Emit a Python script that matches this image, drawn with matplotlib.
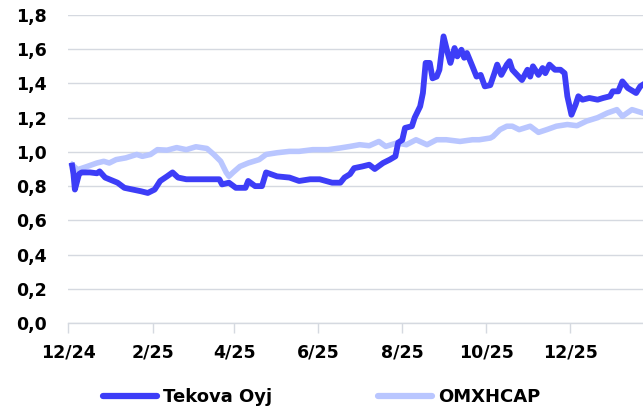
import matplotlib
matplotlib.use("Agg")
import matplotlib.pyplot as plt
import pandas as pd

tekova_dates = [
    "2024-12-04", "2024-12-05", "2024-12-06", "2024-12-09", "2024-12-11", "2024-12-17",
    "2024-12-22", "2024-12-24", "2024-12-28", "2024-12-31", "2025-01-06", "2025-01-11",
    "2025-01-17", "2025-01-23", "2025-01-28", "2025-02-02", "2025-02-06", "2025-02-11",
    "2025-02-15", "2025-02-19", "2025-02-25", "2025-03-07", "2025-03-14", "2025-03-21",
    "2025-03-23", "2025-03-28", "2025-04-02", "2025-04-09", "2025-04-11", "2025-04-16",
    "2025-04-21", "2025-04-24", "2025-05-02", "2025-05-11", "2025-05-18", "2025-05-26",
    "2025-06-02", "2025-06-11", "2025-06-17", "2025-06-20", "2025-06-24", "2025-06-27",
    "2025-07-03", "2025-07-08", "2025-07-12", "2025-07-18", "2025-07-23", "2025-07-27",
    "2025-07-29", "2025-08-01", "2025-08-03", "2025-08-08", "2025-08-10", "2025-08-14",
    "2025-08-16", "2025-08-18", "2025-08-21", "2025-08-23", "2025-08-26", "2025-08-28",
    "2025-08-31", "2025-09-03", "2025-09-05", "2025-09-08", "2025-09-10", "2025-09-13",
    "2025-09-15", "2025-09-17", "2025-09-21", "2025-09-24", "2025-09-27", "2025-09-30",
    "2025-10-04", "2025-10-07", "2025-10-09", "2025-10-12", "2025-10-16", "2025-10-18",
    "2025-10-20", "2025-10-27", "2025-10-31", "2025-11-02", "2025-11-04", "2025-11-08",
    "2025-11-11", "2025-11-13", "2025-11-16", "2025-11-20", "2025-11-24", "2025-11-27",
    "2025-11-29", "2025-12-02", "2025-12-05", "2025-12-07", "2025-12-10", "2025-12-15",
    "2025-12-21", "2025-12-25", "2025-12-30", "2026-01-01", "2026-01-05", "2026-01-08",
    "2026-01-12", "2026-01-18", "2026-01-21", "2026-01-23",
]
tekova_values = [
    0.92, 0.87, 0.78, 0.87, 0.88, 0.88,
    0.875, 0.886, 0.85, 0.84, 0.82, 0.79,
    0.78, 0.77, 0.76, 0.78, 0.83, 0.857,
    0.88, 0.85, 0.84, 0.84, 0.84, 0.84,
    0.81, 0.82, 0.79, 0.79, 0.83, 0.80,
    0.80, 0.88, 0.857, 0.85, 0.83, 0.84,
    0.84, 0.82, 0.82, 0.85, 0.87, 0.905,
    0.915, 0.925, 0.90, 0.935, 0.955, 0.974,
    1.054, 1.07, 1.14, 1.15, 1.20, 1.266,
    1.344, 1.52, 1.52, 1.43, 1.44, 1.48,
    1.675, 1.578, 1.52, 1.607, 1.558, 1.597,
    1.55, 1.578, 1.50, 1.44, 1.45, 1.383,
    1.39, 1.46, 1.51, 1.45, 1.51, 1.53,
    1.48, 1.42, 1.48, 1.44, 1.50, 1.45,
    1.49, 1.46, 1.51, 1.48, 1.48, 1.46,
    1.325, 1.217, 1.276, 1.325, 1.305, 1.315,
    1.305, 1.315, 1.325, 1.354, 1.354, 1.412,
    1.373, 1.344, 1.383, 1.393,
]

omx_dates = [
    "2024-12-04", "2024-12-08", "2024-12-15", "2024-12-22", "2024-12-27", "2024-12-31",
    "2025-01-05", "2025-01-12", "2025-01-20", "2025-01-24", "2025-01-30", "2025-02-04",
    "2025-02-11", "2025-02-18", "2025-02-25", "2025-03-04", "2025-03-12", "2025-03-17",
    "2025-03-22", "2025-03-26", "2025-03-28", "2025-03-31", "2025-04-05", "2025-04-11",
    "2025-04-19", "2025-04-24", "2025-05-02", "2025-05-11", "2025-05-18", "2025-05-28",
    "2025-06-08", "2025-06-17", "2025-06-24", "2025-07-01", "2025-07-08", "2025-07-15",
    "2025-07-20", "2025-07-28", "2025-08-04", "2025-08-11", "2025-08-19", "2025-08-26",
    "2025-09-02", "2025-09-12", "2025-09-21", "2025-09-26", "2025-10-04", "2025-10-06",
    "2025-10-11", "2025-10-16", "2025-10-20", "2025-10-25", "2025-11-02", "2025-11-08",
    "2025-11-14", "2025-11-21", "2025-11-29", "2025-12-06", "2025-12-13", "2025-12-21",
    "2025-12-28", "2026-01-04", "2026-01-08", "2026-01-15", "2026-01-23",
]
omx_values = [
    0.925, 0.896, 0.915, 0.935, 0.945, 0.935,
    0.955, 0.965, 0.985, 0.974, 0.985, 1.013,
    1.01, 1.025, 1.013, 1.03, 1.02, 0.985,
    0.945, 0.88, 0.857, 0.88, 0.915, 0.935,
    0.955, 0.985, 0.995, 1.003, 1.003, 1.013,
    1.013, 1.023, 1.032, 1.042, 1.036, 1.061,
    1.032, 1.052, 1.042, 1.071, 1.042, 1.071,
    1.071, 1.061, 1.071, 1.071, 1.081, 1.09,
    1.13, 1.15, 1.15, 1.13, 1.15, 1.114,
    1.13, 1.15, 1.16, 1.153, 1.18, 1.20,
    1.227, 1.247, 1.208, 1.247, 1.227,
]

series_labels = ["Tekova Oyj", "OMXHCAP"]
y_ticks = [0.0, 0.2, 0.4, 0.6, 0.8, 1.0, 1.2, 1.4, 1.6, 1.8]
x_tick_dates = ["2024-12-01", "2025-02-01", "2025-04-01", "2025-06-01",
                "2025-08-01", "2025-10-01", "2025-12-01"]

plt.rcParams["font.family"] = ["DejaVu Sans"]

fig = plt.figure(figsize=(6.43, 4.11), dpi=100)
ax = fig.add_axes([68 / 643, 1 - 323 / 411, 1 - 68 / 643, (323 - 15) / 411])

c_tek = "#3d3df7"
c_omx = "#b9c6ff"

ax.plot(pd.to_datetime(omx_dates), omx_values, color=c_omx, lw=4.0,
        solid_joinstyle="round", label=series_labels[1], zorder=3)
ax.plot(pd.to_datetime(tekova_dates), tekova_values, color=c_tek, lw=4.2,
        solid_joinstyle="round", label=series_labels[0], zorder=4)

ax.set_ylim(0, 1.8)
ax.set_xlim(pd.Timestamp("2024-12-01"), pd.Timestamp("2026-01-23"))
ax.set_yticks(y_ticks)
ax.set_yticklabels([f"{v:.1f}".replace(".", ",") for v in y_ticks])
xt = pd.to_datetime(x_tick_dates)
ax.set_xticks(xt)
ax.set_xticklabels([f"{d.month}/{d.year % 100:02d}" for d in xt])

grid_c = "#d5d9e0"
ax.grid(axis="y", color=grid_c, lw=1.0)
ax.set_axisbelow(True)
for s in ["top", "right", "left"]:
    ax.spines[s].set_visible(False)
ax.spines["bottom"].set_color(grid_c)
ax.spines["bottom"].set_linewidth(1.0)
ax.tick_params(axis="y", length=0, pad=15, labelsize=12.5)
ax.tick_params(axis="x", length=7, color=grid_c, width=1.0, pad=8, labelsize=12.5)
for lab in ax.get_xticklabels() + ax.get_yticklabels():
    lab.set_fontweight("bold")
    lab.set_color("#000000")

handles, labels = ax.get_legend_handles_labels()
order = [1, 0]
leg = fig.legend([handles[i] for i in order], [labels[i] for i in order],
                 loc="center", bbox_to_anchor=(0.5, 1 - 397 / 411), ncol=2,
                 frameon=False, handlelength=3.0, handletextpad=0.3,
                 columnspacing=5.9, prop={"weight": "bold", "size": 13})
for line in leg.get_lines():
    line.set_linewidth(4.5)
    line.set_solid_capstyle("round")

fig.savefig("out.png", dpi=100)
